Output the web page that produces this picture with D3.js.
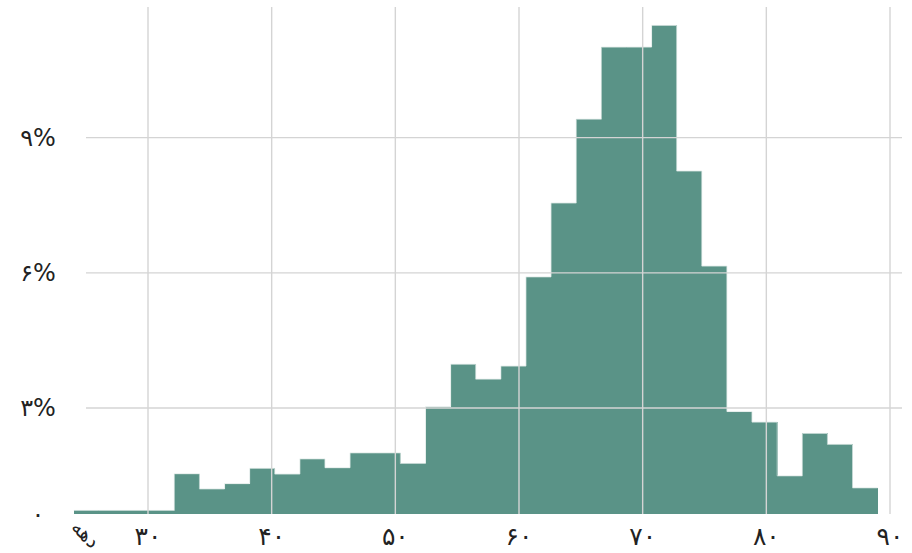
<!DOCTYPE html>
<html>
<head>
<meta charset="utf-8">
<script src="https://cdn.jsdelivr.net/npm/d3@7"></script>
<style>
  body { margin: 0; background: #fff; }
  text { font-family: "DejaVu Sans", sans-serif; fill: #222; }
</style>
</head>
<body>
<div id="chart"></div>
<script>

// histogram bin edges (age, years)
var binEdges = [24, 26.03, 28.06, 30.09, 32.13, 34.16, 36.19, 38.22, 40.25, 42.28, 44.31,
                46.34, 48.38, 50.41, 52.44, 54.47, 56.5, 58.53, 60.56, 62.59, 64.63, 66.66,
                68.69, 70.72, 72.75, 74.78, 76.81, 78.84, 80.88, 82.91, 84.94, 86.97, 89];

// share of each bin (%)
var shares = [0.1, 0.1, 0.1, 0.1, 1.14, 0.71, 0.86, 1.29, 1.13, 1.56, 1.31,
              1.73, 1.73, 1.43, 3.03, 3.97, 3.64, 3.93, 5.91, 7.55, 9.41, 11.01,
              11.01, 11.49, 8.26, 6.15, 2.9, 2.6, 1.08, 2.28, 1.97, 0.74];

var xTicks = [30, 40, 50, 60, 70, 80, 90];
var xTickLabels = ['۳۰', '۴۰', '۵۰', '۶۰', '۷۰', '۸۰', '۹۰'];
var yTicks = [0, 3, 6, 9];
var yTickLabels = ['۰', '۳%', '۶%', '۹%'];
var xTitle = 'دهه';

var width = 912,
    height = 553;

var svg = d3.select('#chart')
  .append('svg')
  .attr('width', width)
  .attr('height', height);

// x: 30 -> 148px, 90 -> 890px
var x = d3.scaleLinear()
  .domain([30, 90])
  .range([148, 890]);

// y axis is squeezed between 0 and 3%
var y = d3.scaleLinear()
  .domain([0, 3, 12])
  .range([514, 408, 2.5]);

var bins = shares.map(function(v, i) {
  return { x0: binEdges[i], x1: binEdges[i + 1], value: v };
});

// bars (no separators between neighbouring bins)
svg.append('g')
  .selectAll('rect')
  .data(bins)
  .enter()
  .append('rect')
  .attr('x', function(d) { return x(d.x0); })
  .attr('width', function(d) { return x(d.x1) - x(d.x0) + 0.5; })
  .attr('y', function(d) { return y(d.value); })
  .attr('height', function(d) { return y(0) - y(d.value); })
  .attr('shape-rendering', 'crispEdges')
  .style('fill', '#5a9387');

// light outline along the top of the histogram
var stepLine = d3.line()
  .curve(d3.curveStepAfter)
  .x(function(d) { return x(d.x0); })
  .y(function(d) { return y(d.value); });

var last = bins[bins.length - 1];
svg.append('path')
  .datum(bins.concat([{ x0: last.x1, value: last.value }]))
  .attr('d', stepLine)
  .style('fill', 'none')
  .style('stroke', '#dfeae7')
  .style('stroke-width', 0.8);

// grid on top of bars
var grid = svg.append('g');

grid.selectAll('.vgrid')
  .data(xTicks)
  .enter()
  .append('line')
  .attr('class', 'vgrid')
  .attr('x1', function(d) { return x(d); })
  .attr('x2', function(d) { return x(d); })
  .attr('y1', 7)
  .attr('y2', y(0))
  .style('stroke', '#d4d4d4')
  .style('stroke-width', 1.4);

grid.selectAll('.hgrid')
  .data(yTicks.slice(1))
  .enter()
  .append('line')
  .attr('class', 'hgrid')
  .attr('x1', 86)
  .attr('x2', 902)
  .attr('y1', function(d) { return y(d); })
  .attr('y2', function(d) { return y(d); })
  .style('stroke', '#d4d4d4')
  .style('stroke-width', 1.4);

// x tick labels
svg.append('g')
  .selectAll('text')
  .data(xTicks)
  .enter()
  .append('text')
  .attr('x', function(d) { return x(d); })
  .attr('y', 545)
  .attr('text-anchor', 'middle')
  .style('font-size', '25px')
  .text(function(d, i) { return xTickLabels[i]; });

// y tick labels
svg.append('g')
  .selectAll('text')
  .data(yTicks)
  .enter()
  .append('text')
  .attr('x', 38)
  .attr('y', function(d) { return y(d); })
  .attr('dy', '0.35em')
  .attr('text-anchor', 'middle')
  .style('font-size', '24px')
  .text(function(d, i) { return yTickLabels[i]; });

// rotated title at left end of x axis
svg.append('text')
  .attr('transform', 'translate(' + (x(binEdges[0]) + 12) + ',534) rotate(45)')
  .attr('text-anchor', 'middle')
  .attr('dy', '0.35em')
  .style('font-size', '20px')
  .text(xTitle);

</script>
</body>
</html>
